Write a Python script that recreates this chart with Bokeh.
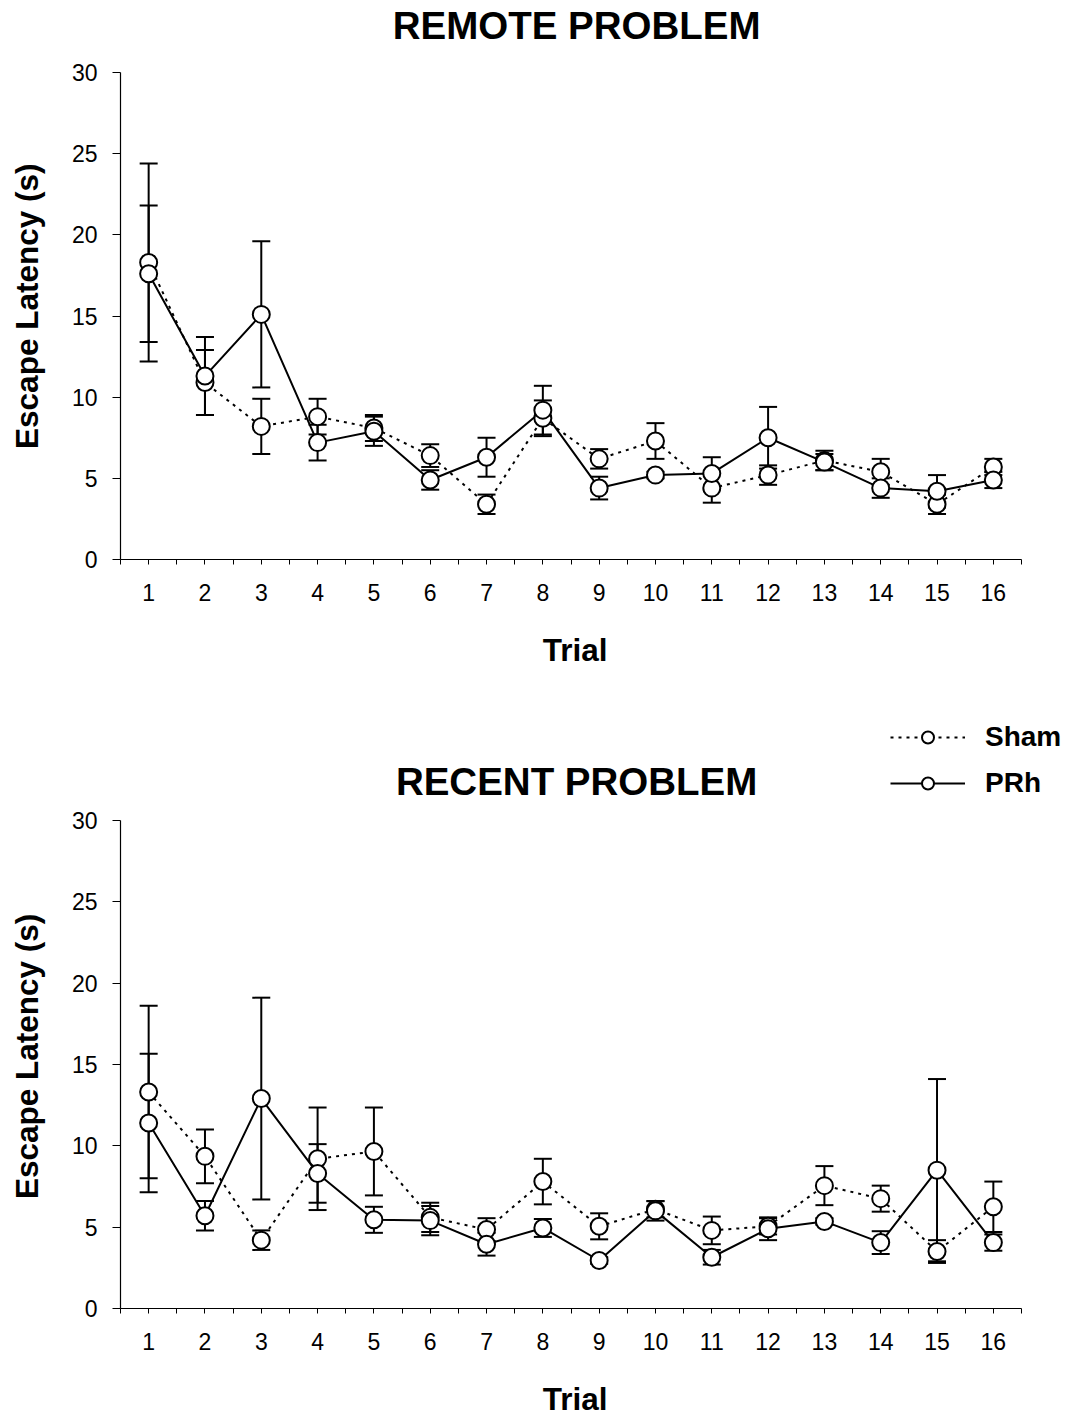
from bokeh.plotting import figure
from bokeh.models import (ColumnDataSource, Range1d, FixedTicker, Whisker, TeeHead,
                          Legend, LegendItem, Label)
from bokeh.layouts import column
from bokeh.embed import file_html
from bokeh.resources import INLINE

trials = list(range(1, 17))
tick_labels = [str(t) for t in trials]

remote_sham = [18.3, 10.9, 8.2, 8.8, 8.1, 6.4, 3.4, 8.7, 6.2, 7.3, 4.4, 5.2, 6.1, 5.4, 3.4, 5.7]
remote_sham_se = [6.1, 2.0, 1.7, 1.1, 0.8, 0.7, 0.6, 1.1, 0.6, 1.1, 0.9, 0.6, 0.6, 0.8, 0.6, 0.5]
remote_prh = [17.6, 11.3, 15.1, 7.2, 7.9, 4.9, 6.3, 9.2, 4.4, 5.2, 5.3, 7.5, 6.0, 4.4, 4.2, 4.9]
remote_prh_se = [4.2, 2.4, 4.5, 1.1, 0.9, 0.6, 1.2, 1.5, 0.7, 0.2, 1.0, 1.9, 0.5, 0.6, 1.0, 0.5]

recent_sham = [13.3, 9.35, 4.2, 9.2, 9.65, 5.6, 4.85, 7.8, 5.05, 6.1, 4.8, 5.05, 7.55, 6.75, 3.5, 6.25]
recent_sham_se = [5.3, 1.65, 0.6, 3.15, 2.7, 0.9, 0.7, 1.4, 0.8, 0.5, 0.85, 0.5, 1.2, 0.8, 0.7, 1.55]
recent_prh = [11.4, 5.7, 12.9, 8.3, 5.45, 5.4, 3.95, 4.95, 2.95, 6.0, 3.15, 4.9, 5.35, 4.05, 8.5, 4.05]
recent_prh_se = [4.25, 0.9, 6.2, 1.8, 0.8, 0.9, 0.7, 0.55, 0.2, 0.6, 0.45, 0.7, 0.2, 0.7, 5.6, 0.5]

FONT = "Liberation Sans"
TITLE_SIZE = "38.5px"
PX_PER_TRIAL = 901 / 16.0
X_END = 0.5 + (1073 - 120) / PX_PER_TRIAL
NBSP = "\u00a0"


def make_panel(title, title_y, sham, sham_se, prh, prh_se, height, bottom, axis_px,
               ypad):
    frame_h = height - bottom
    y_end = 30 * frame_h / axis_px
    p = figure(width=1073, height=height, output_backend="svg", toolbar_location=None,
               x_range=Range1d(0.5, X_END), y_range=Range1d(0, y_end),
               min_border_left=120, min_border_right=0,
               min_border_top=0, min_border_bottom=bottom)
    p.outline_line_color = None
    p.xgrid.visible = False
    p.ygrid.visible = False
    p.background_fill_color = "white"
    p.border_fill_color = "white"

    p.xaxis.ticker = FixedTicker(ticks=trials,
                                 minor_ticks=[t + 0.5 for t in range(0, 17)])
    p.xaxis.major_label_overrides = {t: l for t, l in zip(trials, tick_labels)}
    p.yaxis.ticker = FixedTicker(ticks=[0, 5, 10, 15, 20, 25, 30], minor_ticks=[])
    p.xaxis.bounds = (0.5, 16.5)
    p.yaxis.bounds = (0, 30)
    for ax in (p.xaxis, p.yaxis):
        ax.axis_line_color = "black"
        ax.axis_line_width = 1.2
        ax.major_tick_line_color = "black"
        ax.minor_tick_line_color = "black"
        ax.major_tick_in = 0
        ax.minor_tick_in = 0
        ax.major_label_text_font = FONT
        ax.major_label_text_font_size = "23px"
        ax.major_label_text_color = "black"
        ax.axis_label_text_font = FONT
        ax.axis_label_text_font_size = "31.5px"
        ax.axis_label_text_font_style = "bold"
        ax.axis_label_text_color = "black"
    p.xaxis.major_tick_out = 5
    p.xaxis.minor_tick_out = 5
    p.xaxis.major_label_standoff = 19
    # trailing non-breaking spaces re-centre the label on the drawn axis
    p.xaxis.axis_label = "Trial" + NBSP * 5
    p.xaxis.axis_label_standoff = 28
    p.yaxis.major_tick_out = 8
    p.yaxis.major_label_standoff = 15
    p.yaxis.axis_label = "Escape Latency (s)" + NBSP * ypad
    p.yaxis.axis_label_standoff = 24

    p.add_layout(Label(x=8.6, y=title_y, y_units="screen", text=title,
                       text_align="center", text_baseline="alphabetic",
                       text_font=FONT, text_font_size=TITLE_SIZE,
                       text_font_style="bold", text_color="black"))

    src_s = ColumnDataSource(dict(x=trials, y=sham,
                                  up=[v + e for v, e in zip(sham, sham_se)],
                                  lo=[v - e for v, e in zip(sham, sham_se)]))
    src_p = ColumnDataSource(dict(x=trials, y=prh,
                                  up=[v + e for v, e in zip(prh, prh_se)],
                                  lo=[v - e for v, e in zip(prh, prh_se)]))
    for src in (src_s, src_p):
        w = Whisker(base="x", upper="up", lower="lo", source=src, dimension="height",
                    line_color="black", line_width=2,
                    upper_head=TeeHead(size=18, line_color="black", line_width=2),
                    lower_head=TeeHead(size=18, line_color="black", line_width=2),
                    level="underlay")
        p.add_layout(w)

    ls = p.line("x", "y", source=src_s, line_color="black", line_width=2,
                line_dash="3 5")
    lp = p.line("x", "y", source=src_p, line_color="black", line_width=2)
    cs = p.scatter("x", "y", source=src_s, marker="circle", size=17,
                   fill_color="white", line_color="black", line_width=2)
    cp = p.scatter("x", "y", source=src_p, marker="circle", size=17,
                   fill_color="white", line_color="black", line_width=2)
    return p, (ls, cs), (lp, cp)


# Top panel: axis 0..30 spans 487 px, frame bottom at 559 px
p1, _, _ = make_panel("REMOTE PROBLEM", 534, remote_sham, remote_sham_se,
                      remote_prh, remote_prh_se, 690, 131, 487.0, 6)
# Bottom panel: axis 0..30 spans 489 px, frame bottom at 619 px (of 729)
p2, sham_r, prh_r = make_panel("RECENT PROBLEM", 527, recent_sham, recent_sham_se,
                               recent_prh, recent_prh_se, 729, 110, 489.0, 13)

legend = Legend(items=[LegendItem(label="Sham", renderers=list(sham_r)),
                       LegendItem(label="PRh", renderers=list(prh_r))],
                location=(770, 509), orientation="vertical",
                glyph_width=75, glyph_height=30, label_height=30,
                label_standoff=20, spacing=14, padding=0, margin=0,
                border_line_color=None, background_fill_alpha=0,
                label_text_font=FONT, label_text_font_size="28px",
                label_text_font_style="bold", label_text_color="black")
p2.add_layout(legend, "center")

layout = column(p1, p2, spacing=0)
open("out.html", "w").write(file_html(layout, INLINE))
